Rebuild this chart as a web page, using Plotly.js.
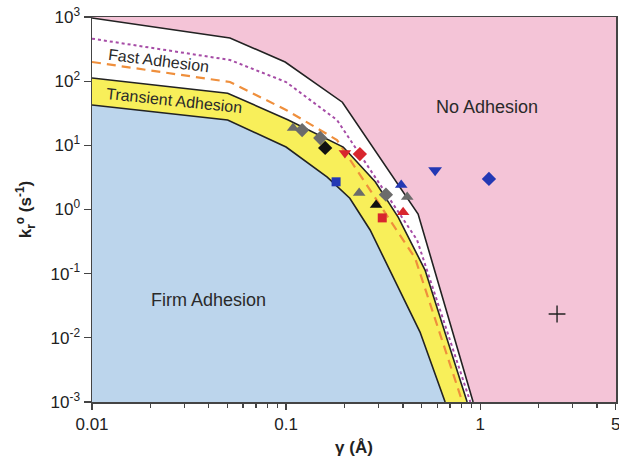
<!DOCTYPE html>
<html>
<head>
<meta charset="utf-8">
<script src="https://cdn.plot.ly/plotly-3.0.1.min.js"></script>
<style>html,body{margin:0;padding:0;background:#fff;}#chart{width:619px;height:461px;}</style>
</head>
<body>
<div id="chart"></div>
<script>
// axis ranges
const xRange = [0.01, 5];
const yRange = [1e-3, 1e3];

// regime boundaries (gamma in Å, kr0 in 1/s)
const noAdhX = [0.01, 0.0514, 0.0989, 0.195, 0.479, 0.92];
const noAdhY = [964, 471, 199, 47, 0.85, 0.001];

const transTopX = [0.01, 0.05, 0.102, 0.197, 0.288, 0.378, 0.52, 0.857];
const transTopY = [112, 65, 25, 9.4, 2.7, 0.76, 0.114, 0.001];

const firmX = [0.01, 0.05, 0.1, 0.163, 0.213, 0.271, 0.49, 0.66];
const firmY = [42.5, 24.8, 9.4, 3.2, 1.5, 0.48, 0.0123, 0.001];

const dottedX = [0.01, 0.0514, 0.1, 0.183, 0.473, 0.89];
const dottedY = [460, 214, 97, 24.8, 0.335, 0.001];

const dashedX = [0.01, 0.0514, 0.1, 0.183, 0.462, 0.81];
const dashedY = [199, 97, 35.6, 12.1, 0.175, 0.001];

// experimental points
const grayTriX = [0.1087, 0.238, 0.421];
const grayTriY = [18.6, 1.8, 1.57];
const grayDiaX = [0.121, 0.150, 0.327];
const grayDiaY = [17.3, 13.0, 1.7];
const blackDiaX = [0.159];
const blackDiaY = [9.1];
const blackTriX = [0.291];
const blackTriY = [1.17];
const crossX = [2.49];
const crossY = [0.0235];
const redTriDownX = [0.201];
const redTriDownY = [7.6];
const redDiaX = [0.240];
const redDiaY = [7.3];
const redSqX = [0.313];
const redSqY = [0.74];
const redTriX = [0.401];
const redTriY = [0.91];
const blueSqX = [0.181];
const blueSqY = [2.7];
const blueTriX = [0.392];
const blueTriY = [2.4];
const blueTriDownX = [0.586];
const blueTriDownY = [4.1];
const blueDiaX = [1.11];
const blueDiaY = [3.0];

// tick labels
const yTickVals = [1e-3, 1e-2, 1e-1, 1, 10, 100, 1000];
const yTickText = ['10<sup>-3</sup>','10<sup>-2</sup>','10<sup>-1</sup>','10<sup>0</sup>','10<sup>1</sup>','10<sup>2</sup>','10<sup>3</sup>'];
const xTickVals = [0.01, 0.1, 1, 5];
const xTickText = ['0.01', '0.1', '1', '5'];
const xMinor = [0.02,0.03,0.04,0.05,0.06,0.07,0.08,0.09,0.2,0.3,0.4,0.5,0.6,0.7,0.8,0.9,2,3,4];

const PINK = '#f4c4d7', WHITE = '#ffffff', YELLOW = '#f8ef5a', BLUE = '#bcd5ec';

function region(xs, ys, color) {
  return {x: xs.concat([xRange[0]]), y: ys.concat([yRange[0]]), mode: 'lines',
    fill: 'toself', fillcolor: color, line: {width: 0}, hoverinfo: 'skip', showlegend: false};
}
function line(xs, ys, style) {
  return {x: xs, y: ys, mode: 'lines', line: style, hoverinfo: 'skip', showlegend: false};
}
function pts(xs, ys, symbol, color, size) {
  return {x: xs, y: ys, mode: 'markers', showlegend: false, cliponaxis: false,
    marker: {symbol: symbol, color: color, size: size, line: {width: 0}}};
}

const traces = [
  region(noAdhX, noAdhY, WHITE),
  region(transTopX, transTopY, YELLOW),
  region(firmX, firmY, BLUE),
  line(dottedX, dottedY, {color: '#a64ca6', width: 2, dash: 'dot'}),
  line(dashedX, dashedY, {color: '#ef8f3c', width: 2.2, dash: '9px,6px'}),
  line(noAdhX, noAdhY, {color: '#222', width: 1.6}),
  line(transTopX, transTopY, {color: '#222', width: 1.6}),
  line(firmX, firmY, {color: '#222', width: 1.6}),
  pts(grayTriX, grayTriY, 'triangle-up', '#6b6b6b', 11),
  pts(grayDiaX, grayDiaY, 'diamond', '#6b6b6b', 11),
  pts(blackDiaX, blackDiaY, 'diamond', '#111', 11),
  pts(blackTriX, blackTriY, 'triangle-up', '#111', 11),
  pts(redTriDownX, redTriDownY, 'triangle-down', '#d8262e', 11),
  pts(redDiaX, redDiaY, 'diamond', '#d8262e', 11),
  pts(redSqX, redSqY, 'square', '#d8262e', 9),
  pts(redTriX, redTriY, 'triangle-up', '#d8262e', 11),
  pts(blueSqX, blueSqY, 'square', '#2338b4', 9),
  pts(blueTriX, blueTriY, 'triangle-up', '#2338b4', 11),
  pts(blueTriDownX, blueTriDownY, 'triangle-down', '#2338b4', 12),
  pts(blueDiaX, blueDiaY, 'diamond', '#2338b4', 11),
  {x: crossX, y: crossY, mode: 'markers', showlegend: false,
   marker: {symbol: 'cross-thin', size: 12, line: {color: '#222', width: 1.4}}}
];

const FONT = 'Liberation Sans, Arial, sans-serif';
const txt = (text, x, y, angle, size) => ({text: text, xref: 'paper', yref: 'paper', x: x, y: y,
  xanchor: 'center', yanchor: 'middle',
  showarrow: false, textangle: angle, font: {family: FONT, size: size, color: '#2a2a2a'}});

const layout = {
  width: 619, height: 461,
  margin: {l: 92, r: 3, t: 17, b: 59},
  paper_bgcolor: '#fff', plot_bgcolor: PINK,
  font: {family: FONT, color: '#222'},
  xaxis: {type: 'log', range: [Math.log10(xRange[0]), Math.log10(xRange[1]) + 0.001],
    tickvals: xTickVals, ticktext: xTickText, ticks: 'outside', ticklen: 6, tickwidth: 1.2,
    ticklabeloverflow: 'allow',
    tickcolor: '#444', showgrid: false, zeroline: false, showline: true, mirror: true,
    linecolor: '#444', linewidth: 1.5, tickfont: {size: 17, color: '#222'},
    minor: {tickvals: xMinor, ticks: 'outside', ticklen: 4, tickcolor: '#444', showgrid: false},
    title: {text: '<b>γ (Å)</b>', font: {size: 17, color: '#222'}, standoff: 8}, automargin: false},
  yaxis: {type: 'log', range: [Math.log10(yRange[0]), Math.log10(yRange[1])],
    tickvals: yTickVals, ticktext: yTickText, ticks: 'outside', ticklen: 7, tickwidth: 1.2,
    tickcolor: '#444', showgrid: false, zeroline: false, showline: true, mirror: true,
    linecolor: '#444', linewidth: 1.5, tickfont: {size: 17, color: '#222'},
    title: {text: '<b>k<sub>r</sub><sup>o</sup> (s<sup>-1</sup>)</b>', font: {size: 17, color: '#222'}, standoff: 14},
    automargin: false},
  annotations: [
    txt('Fast Adhesion', 0.126, 0.888, 7, 16),
    txt('Transient Adhesion', 0.156, 0.782, 6, 16),
    txt('No Adhesion', 0.754, 0.766, 0, 18),
    txt('Firm Adhesion', 0.223, 0.265, 0, 18)
  ]
};

Plotly.newPlot('chart', traces, layout, {staticPlot: true, displayModeBar: false});
</script>
</body>
</html>
